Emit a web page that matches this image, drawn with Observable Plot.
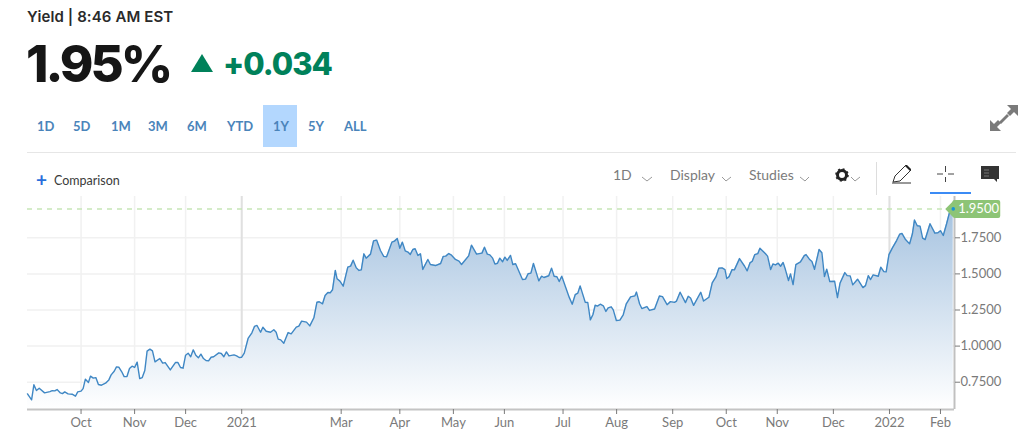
<!DOCTYPE html>
<html><head><meta charset="utf-8">
<script src="https://cdn.jsdelivr.net/npm/d3@7"></script>
<script src="https://cdn.jsdelivr.net/npm/@observablehq/plot@0.6"></script>
<style>
html,body{margin:0;padding:0;background:#fff;width:1024px;height:441px;overflow:hidden;font-family:Lato,"Open Sans",sans-serif}
.a{position:absolute;white-space:nowrap;line-height:1}
.r{color:#4a84ba;font-size:13px;font-weight:700;top:120px}
.t{color:#7b7b7b;font-size:14px;top:168px}
svg.i{position:absolute;overflow:visible}
#chart svg{position:absolute;left:0;top:196px;overflow:visible;background:transparent}
</style></head><body>
<div class="a" style="left:27px;top:9px;font-family:Inter;font-size:15px;font-weight:600;letter-spacing:.1px;color:#2a2a2a">Yield | 8:46 AM EST</div>
<div class="a" style="left:26px;top:38px;font-family:Inter;font-size:51px;font-weight:800;letter-spacing:-3px;color:#161616">1.95%</div>
<svg class="i" style="left:191px;top:54px" width="22" height="18"><path d="M11 0L22 18H0Z" fill="#00815a"/></svg>
<div class="a" style="left:223px;top:48px;font-family:Inter;font-size:31px;font-weight:800;letter-spacing:-1px;color:#00815a">+0.034</div>
<div class="a" style="left:263px;top:105px;width:34px;height:42px;background:#b3d7fe"></div>
<div class="a r" style="left:37px">1D</div><div class="a r" style="left:73px">5D</div>
<div class="a r" style="left:111px">1M</div><div class="a r" style="left:148px">3M</div>
<div class="a r" style="left:187px">6M</div><div class="a r" style="left:227px">YTD</div>
<div class="a r" style="left:273px">1Y</div><div class="a r" style="left:308px">5Y</div>
<div class="a r" style="left:344px">ALL</div>
<div class="a" style="left:27px;top:152px;width:989px;height:1px;background:#e6e6e6"></div>
<svg class="i" style="left:990px;top:105px" width="28" height="28"><g fill="#7a7a7a"><path d="M28 0v11l-4-4-4 4-3-3 4-4-4-4z"/><path d="M0 26V15l4 4 4-4 3 3-4 4 4 4z"/><path d="M9 17l8-8 2 2-8 8z"/></g></svg>
<div class="a" style="left:36px;top:170px;font-size:19px;font-weight:700;color:#2a6fdb">+</div>
<div class="a" style="left:54px;top:175px;font-size:12.5px;color:#3a3a3a">Comparison</div>
<div class="a t" style="left:613px">1D</div><div class="a t" style="left:670px">Display</div><div class="a t" style="left:749px">Studies</div>
<svg class="i" style="left:0;top:0" width="1024" height="200" fill="none">
<g stroke="#9a9a9a" stroke-width="1"><path d="M642 177l5 4 5-4M722 177l4 4 5-4M800 177l5 4 4-4M851 177l4 4 5-4"/></g>
<circle cx="842" cy="175" r="4.500" stroke="#222" stroke-width="3"/><circle cx="842" cy="175" r="6" stroke="#222" stroke-width="1.6" stroke-dasharray="2 2.7"/>
<path d="M876.500 162V195" stroke="#ddd"/>
<path d="M893 182l2-6 11-11 5 5-11 11zM892 183H911" stroke="#333" stroke-width="1"/><path d="M905 166l5 5 1-2-4-4z" fill="#222"/>
<path d="M937 174H943M948 174H954M945.500 166V172M945.500 177V182" stroke="#444"/>
<rect x="930" y="192" width="41" height="2" fill="#3b8bf5"/>
<path d="M981 166H999V179H997V182L994 179H981Z" fill="#333"/>
<path d="M984 170H989M984 173H989M984 176H989" stroke="#777"/>
</svg>
<div id="chart"></div>
<script>
const sessions=[0,1.6,2.5,3.5,4.6,6.7,8.8,9.7,10.7,11.6,12.9,13.7,14.6,15.9,17.5,18.8,19.7,21,21.8,22.7,23.9,24.7,25.8,26.8,27.8,29,30.6,31.9,32.8,34,34.9,35.8,36.9,37.9,39,40,41,42,43,44,45,46,46.9,48,49,50,51.9,53,54,56,58,59,60,61,62,63,64,65,66,67,68,69,70,71,72,73,75,76,77,78,79,81,82,83,84,85,86.5,88,89,90,91.4,92.3,93.6,95.3,96.6,97.5,98.3,99.3,100.5,102.2,103.4,105.4,106.4,107.5,109.4,110.7,112.3,113.5,114.4,115.7,116.7,117.8,118.7,119.6,120.7,121.4,122.5,123.8,125.6,126.7,127.7,128.9,130,130.9,131.9,132.8,134.5,135.7,136.9,138.4,139.7,140.8,142.9,143.9,145,146,147,148.1,149.2,150.1,151.1,152,153.1,154.1,155,157,158,160,162,163,164,165.2,166.1,167.8,169.2,170.2,173,174.1,176.1,178.2,179.2,180.3,181.3,182.4,183.3,184.3,185.2,186.3,187.2,188.1,189.4,190.3,191.4,194.1,195.3,196.3,197.4,198.4,200.5,201.6,202.5,204.4,205.5,206.5,207.6,208.5,209.5,212.4,213.6,214.8,215.8,216.7,218.7,219.7,220.7,221.7,222.6,223.5,224.6,225.8,226.8,227.7,228.9,229.7,230.9,232.3,233.6,234.8,236.5,238.2,238.8,240,240.9,242.9,243.9,245.9,247.8,249,250.8,252.1,253.7,254.5,255.9,258,259.1,260,261.2,264,265.1,267.2,268.5,270,271.1,272.4,273.5,274.2,275.1,276.3,277.2,279.2,281.2,282.2,283.3,284.2,285.2,286.4,287.2,289.4,290.2,291.4,292.3,293.3,294.4,295.3,296.3,297.2,298.4,299.2,300.2,301.3,303.1,304.6,305.3,306.6,307.6,308.6,310.4,311.5,312.5,313.4,314.6,316.5,317.6,318.6,320.5,321.4,322.6,323.6,325.5,327.6,328.6,329.7,330.6,331.6,333.6,334.6,335.8,336.7,337.8,339.1,340.8,342,342.9,344.3,345.9,347,347.8,348.9,350,351,352,353.9,355.8,357,358,359.1,360.4,361.6,363];
const yields=[.669,.628,.732,.692,.708,.676,.685,.692,.69,.699,.676,.671,.683,.669,.667,.653,.683,.688,.706,.771,.748,.792,.778,.782,.734,.729,.743,.766,.801,.826,.856,.854,.824,.789,.789,.845,.861,.852,.889,.775,.782,.831,.965,.979,.967,.891,.914,.882,.886,.835,.886,.886,.852,.847,.937,.951,.926,.974,.937,.919,.944,.914,.9,.898,.923,.926,.953,.949,.926,.96,.932,.939,.932,.921,.923,.951,1.053,1.092,1.136,1.143,1.096,1.131,1.103,1.096,1.113,1.096,1.048,1.043,1.02,1.094,1.085,1.131,1.138,1.173,1.166,1.14,1.196,1.304,1.307,1.293,1.35,1.371,1.369,1.39,1.524,1.466,1.45,1.415,1.547,1.554,1.595,1.542,1.524,1.528,1.639,1.609,1.637,1.729,1.734,1.662,1.621,1.618,1.72,1.727,1.745,1.678,1.72,1.66,1.651,1.635,1.669,1.674,1.628,1.639,1.531,1.6,1.565,1.558,1.572,1.621,1.623,1.641,1.632,1.6,1.588,1.565,1.625,1.699,1.637,1.644,1.685,1.637,1.632,1.609,1.568,1.574,1.609,1.584,1.616,1.593,1.628,1.565,1.57,1.461,1.464,1.501,1.505,1.572,1.452,1.484,1.475,1.487,1.54,1.484,1.48,1.447,1.484,1.339,1.29,1.357,1.367,1.417,1.304,1.302,1.182,1.217,1.283,1.277,1.29,1.279,1.24,1.265,1.272,1.251,1.177,1.18,1.217,1.293,1.341,1.348,1.374,1.293,1.26,1.274,1.247,1.257,1.347,1.343,1.287,1.308,1.303,1.312,1.373,1.301,1.345,1.333,1.282,1.373,1.312,1.338,1.438,1.481,1.539,1.542,1.53,1.468,1.481,1.53,1.528,1.606,1.553,1.521,1.576,1.588,1.634,1.641,1.678,1.639,1.623,1.53,1.569,1.562,1.574,1.553,1.579,1.53,1.454,1.5,1.426,1.565,1.583,1.627,1.634,1.602,1.586,1.532,1.669,1.646,1.481,1.532,1.447,1.449,1.336,1.435,1.509,1.488,1.486,1.424,1.463,1.405,1.419,1.488,1.461,1.493,1.484,1.546,1.516,1.514,1.634,1.678,1.731,1.775,1.78,1.738,1.708,1.778,1.873,1.833,1.831,1.748,1.738,1.847,1.782,1.785,1.799,1.766,1.847,1.93,1.95];
const monthSessions=[21,42,62,84,123,146,167,187,210,231,253,274,294,316,338,358];
const monthLabels=["Oct","Nov","Dec","2021","Mar","Apr","May","Jun","Jul","Aug","Sep","Oct","Nov","Dec","2022","Feb"];
const yearSessions=[84,338];
const yieldTicks=[.75,1,1.25,1.5,1.75];
const lastYield=1.95, lastSession=363;
const xDomain=[0,363.5], yDomain=[.561,2.036];
const rows=sessions.map((s,i)=>({s,y:yields[i]}));

const gradient=()=>{
  const ns="http://www.w3.org/2000/svg";
  const defs=document.createElementNS(ns,"defs");
  defs.innerHTML='<linearGradient id="fade" x1="0" y1="0" x2="0" y2="1"><stop offset="0" stop-color="#a6c3e0"/><stop offset="1" stop-color="#ffffff"/></linearGradient>';
  return defs;
};
const flag={draw(c){c.moveTo(-8,0);c.lineTo(-1,-7);c.arcTo(0,-9,2,-9,2);c.lineTo(45,-9);c.arcTo(47,-9,47,-7,2);c.lineTo(47,7);c.arcTo(47,9,45,9,2);c.lineTo(2,9);c.arcTo(0,9,-1,7,2);c.closePath();}};

const plot=Plot.plot({
  width:1024,height:245,marginLeft:27,marginRight:70,marginTop:0,marginBottom:32,
  style:{fontFamily:"Lato, 'Open Sans', sans-serif",fontSize:"13px"},
  x:{domain:xDomain},y:{domain:yDomain},
  marks:[
    gradient,
    Plot.ruleY(yieldTicks,{stroke:"#f1f1f1",strokeWidth:1.5}),
    Plot.ruleX(monthSessions,{stroke:"#f1f1f1",strokeWidth:1.5}),
    Plot.ruleX(yearSessions,{stroke:"#e0e0e0",strokeWidth:2}),
    Plot.areaY(rows,{x:"s",y1:()=>yDomain[0],y2:"y",fill:"url(#fade)"}),
    Plot.lineY(rows,{x:"s",y:"y",stroke:"#3f87c4",strokeWidth:1.4}),
    Plot.ruleY([lastYield],{stroke:"#c6e6b6",strokeWidth:1.5,strokeDasharray:"5 5",x2:lastSession-3}),
    Plot.ruleY([yDomain[0]],{stroke:"#c4c4c4",strokeWidth:2}),
    Plot.ruleX([xDomain[1]],{stroke:"#c0c0c0",strokeWidth:2}),
    Plot.axisX({ticks:monthSessions,tickFormat:d=>monthLabels[monthSessions.indexOf(d)],tickSize:5,tickPadding:3,label:null,color:"#7a7a7a",fontSize:13}),
    Plot.axisY({anchor:"right",ticks:yieldTicks,tickFormat:d=>d.toFixed(4),tickSize:5,tickPadding:1,label:null,color:"#7a7a7a",fontSize:13}),
    Plot.dot([{s:lastSession,y:lastYield}],{x:"s",y:"y",symbol:flag,r:5,fill:"#8dc476",stroke:"none"}),
    Plot.dot([{s:lastSession,y:lastYield}],{x:"s",y:"y",r:1.8,fill:"#1693d6",stroke:"none"}),
    Plot.text([lastYield],{x:()=>lastSession,y:d=>d,text:d=>d.toFixed(4),fill:"#fff",textAnchor:"start",dx:5,fontSize:13})
  ]
});
document.getElementById("chart").appendChild(plot);
</script>
</body></html>
